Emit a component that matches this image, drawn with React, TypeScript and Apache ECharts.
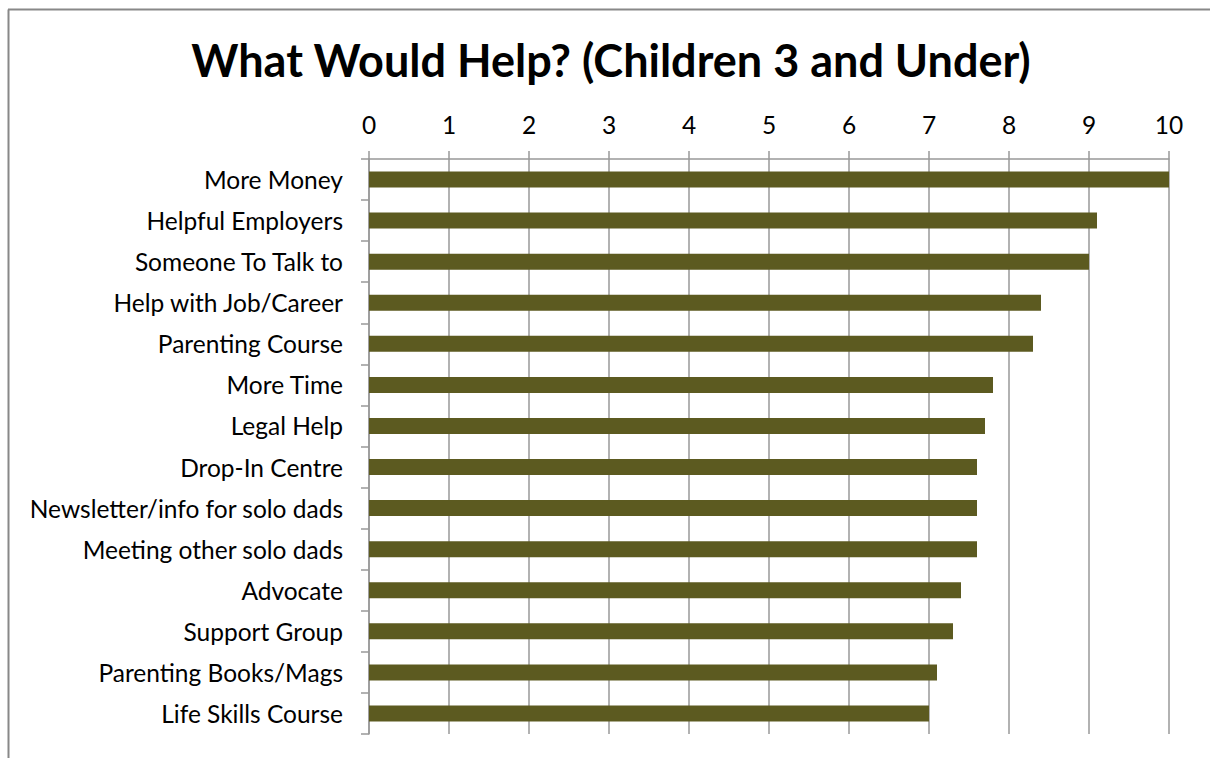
import React, { useEffect, useRef } from "react";
import * as echarts from "echarts";

const categories = [
  "More Money",
  "Helpful Employers",
  "Someone To Talk to",
  "Help with Job/Career",
  "Parenting Course",
  "More Time",
  "Legal Help",
  "Drop-In Centre",
  "Newsletter/info for solo dads",
  "Meeting other solo dads",
  "Advocate",
  "Support Group",
  "Parenting Books/Mags",
  "Life Skills Course",
];
const values = [10, 9.1, 9.0, 8.4, 8.3, 7.8, 7.7, 7.6, 7.6, 7.6, 7.4, 7.3, 7.1, 7.0];
const titleText = "What Would Help? (Children 3 and Under)";

export default function App() {
  const ref = useRef<HTMLDivElement>(null);
  useEffect(() => {
    if (!ref.current) return;
    document.documentElement.style.overflow = "hidden";
    document.body.style.overflow = "hidden";
    const chart = echarts.init(ref.current, null, { renderer: "svg" });
    const font = "Lato, 'Open Sans', sans-serif";
    chart.setOption({
      animation: false,
      backgroundColor: "#ffffff",
      title: {
        text: titleText,
        left: 606,
        textAlign: "center",
        top: 32,
        textStyle: { fontFamily: font, fontWeight: "bold", fontSize: 45, color: "#000" },
      },
      graphic: [
        {
          type: "line",
          shape: { x1: 8, y1: 9.5, x2: 1400, y2: 9.5 },
          style: { stroke: "#888888", lineWidth: 2 },
          silent: true,
        },
        {
          type: "line",
          shape: { x1: 8.5, y1: 9.5, x2: 8.5, y2: 800 },
          style: { stroke: "#888888", lineWidth: 2 },
          silent: true,
        },
      ],
      grid: { left: 369, right: 41, top: 159, bottom: 24, containLabel: false },
      xAxis: {
        type: "value",
        position: "top",
        min: 0,
        max: 10,
        interval: 1,
        axisLine: { show: true, lineStyle: { color: "#989898", width: 1.5 } },
        axisTick: { show: true, length: 8, lineStyle: { color: "#989898", width: 1.5 } },
        axisLabel: { fontFamily: font, fontSize: 24.5, color: "#000", margin: 22 },
        splitLine: { show: true, lineStyle: { color: "#989898", width: 1.5 } },
      },
      yAxis: {
        type: "category",
        data: categories,
        inverse: true,
        axisLine: { show: true, lineStyle: { color: "#989898", width: 1.5 } },
        axisTick: { show: true, length: 8, lineStyle: { color: "#989898", width: 1.5 } },
        axisLabel: { fontFamily: font, fontSize: 24.5, color: "#000", margin: 26 },
        splitLine: { show: false },
      },
      series: [
        {
          type: "bar",
          data: values,
          barWidth: 16,
          itemStyle: { color: "#5C5A20" },
        },
      ],
    });
    return () => chart.dispose();
  }, []);
  return (
    <div
      ref={ref}
      style={{ position: "fixed", left: 0, top: 0, width: 1210, height: 758 }}
    />
  );
}
